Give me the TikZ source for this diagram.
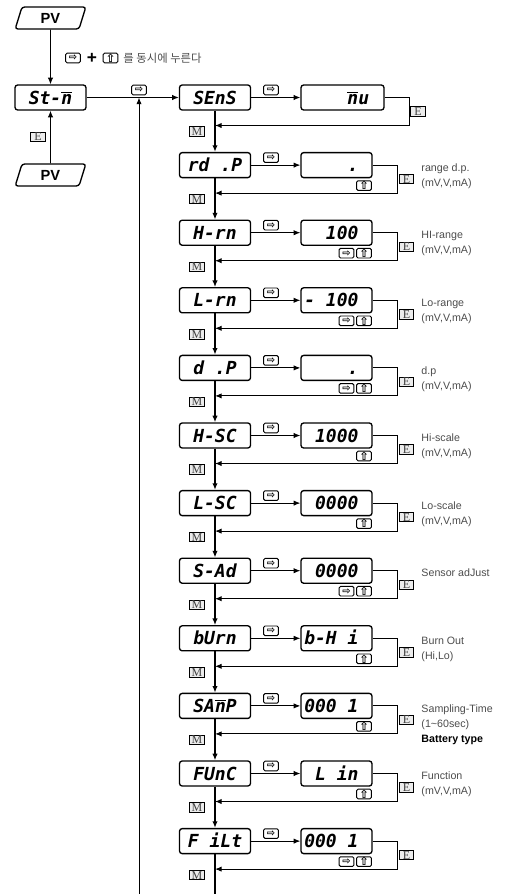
\documentclass[tikz,border=0pt]{standalone}
\usepackage{fontspec}
\setmainfont{Liberation Sans}
\newfontfamily\segfont{DejaVu Sans Mono}
\newfontfamily\symfont{DejaVu Sans}
\newfontfamily\serfont{Liberation Serif}
\newfontfamily\krfont{Noto Sans CJK KR}
\usetikzlibrary{arrows.meta,shapes.geometric}
\colorlet{notegray}{black!70}
\newcommand\barn{$\overline{\mbox{n}}$}
\newcommand\upkey{\raisebox{-0.4pt}{\fontsize{8.5}{8.5}\selectfont ⇧}}

\begin{document}
\begin{tikzpicture}[x=0.75pt,y=-0.75pt,>={Latex[length=5pt,width=4pt]},line width=0.7pt]
  \tikzset{disp/.style={draw, line width=1pt, rounded corners=2pt, minimum width=53.25pt, minimum height=18.75pt, inner sep=0pt, text height=10pt, text depth=0pt, font=\segfont\bfseries\itshape\fontsize{13.5}{13.5}\selectfont},
    keybox/.style={draw, line width=0.7pt, rounded corners=1pt, minimum width=11pt, minimum height=7.2pt, inner sep=0pt, font=\symfont\bfseries\fontsize{7.5}{7.5}\selectfont},
    letterkey/.style={draw, line width=0.6pt, fill=gray!15, minimum width=11pt, minimum height=7pt, inner sep=0pt, text=black!75, font=\serfont\fontsize{9}{9}\selectfont},
    pvbox/.style={trapezium, trapezium left angle=77, trapezium right angle=103, trapezium stretches=true, draw, line width=1pt, rounded corners=2pt, minimum width=53pt, minimum height=16.5pt, inner sep=0pt, font=\bfseries\fontsize{11}{11}\selectfont},
    note/.style={anchor=north west, align=left, inner sep=0pt, text=notegray, font=\fontsize{8}{11.25}\selectfont}}
  \useasboundingbox (0,0) rectangle (509,894);
  \node[pvbox] (pv1) at (50.5,18) {PV};
  \node[disp] (stm) at (50.5,97.5) {St-\barn};
  \node[pvbox] (pv2) at (50.5,175) {PV};
  \draw[->] (pv1) -- (stm);
  \draw[->] (pv2) -- (stm);
  \node[letterkey] (estm) at (38,137) {E};
  \node[keybox] (both1) at (73,58) {⇨};
  \node[font=\bfseries\fontsize{13}{13}\selectfont] (plus) at (92,58) {+};
  \node[keybox] (both2) at (110.5,58) {\upkey};
  \node[anchor=west, inner sep=0pt, text=notegray, font=\krfont\fontsize{8.5}{8.5}\selectfont] (press) at (123,58) {를 동시에 누른다};
  \node[disp] (m0) at (215,97.5) {SEnS};
  \node[disp, minimum width=62.25pt] (v0) at (342.5,97.5) {\makebox[40pt][r]{\barn u}};
  \coordinate (jn) at (139,97.5);
  \coordinate (lb) at (139,894);
  \draw[->] (stm) -- (m0);
  \node[keybox] (a) at (139,90) {⇨};
  \draw[->] (lb) -- (jn);
  \draw[->] (m0) -- (v0);
  \node[keybox] (a0) at (271,90) {⇨};
  \coordinate (r0) at (215,125.5);
  \draw[->] (v0.east) -- ++(25,0) |- (r0);
  \node[letterkey] (e0) at (418,111.5) {E};
  \node[letterkey] (mk0) at (197,131.5) {M};
  \foreach \i/\mt/\vt/\nk/\lab in {1/{rd .P}/{.}/1/{range d.p.\\(mV,V,mA)},
      2/{H-rn}/{100}/2/{HI-range\\(mV,V,mA)},
      3/{L-rn}/{- 100}/2/{Lo-range\\(mV,V,mA)},
      4/{d .P}/{.}/2/{d.p\\(mV,V,mA)},
      5/{H-SC}/{1000}/1/{Hi-scale\\(mV,V,mA)},
      6/{L-SC}/{0000}/1/{Lo-scale\\(mV,V,mA)},
      7/{S-Ad}/{0000}/2/{Sensor adJust},
      8/{bUrn}/{b-H i}/1/{Burn Out\\(Hi,Lo)},
      9/{SA\barn P}/{000 1}/1/{Sampling-Time\\(1\textasciitilde60sec)\\{\color{black}\bfseries Battery type}},
      10/{FUnC}/{L in}/1/{Function\\(mV,V,mA)},
      11/{F iLt}/{000 1}/2/{}}{
    \pgfmathsetmacro\y{97.5+67.6*\i}
    \pgfmathtruncatemacro\j{\i-1}
    \node[disp] (m\i) at (215,\y) {\mt};
    \node[disp] (v\i) at (336.5,\y) {\makebox[33pt][r]{\vt}};
    \draw[->, line width=1pt] (m\j) -- (m\i);
    \draw[->] (m\i) -- (v\i);
    \node[keybox] (a\i) at (271,\y-7.5) {⇨};
    \node[keybox] (u\i) at (364,\y+20.5) {\upkey};
    \ifnum\nk=2 \node[keybox] (rt\i) at (346.5,\y+20.5) {⇨}; \fi
    \coordinate (r\i) at (215,\y+28);
    \draw[->] (v\i.east) -- ++(25,0) |- (r\i);
    \node[letterkey] (e\i) at (406.5,\y+14) {E};
    \node[letterkey] (mk\i) at (197,\y+34) {M};
    \node[note] (n\i) at (421,\y-2) {\lab};
  }
  \coordinate (mend) at (215,894);
  \draw[line width=1pt] (m11) -- (mend);
\end{tikzpicture}
\end{document}
